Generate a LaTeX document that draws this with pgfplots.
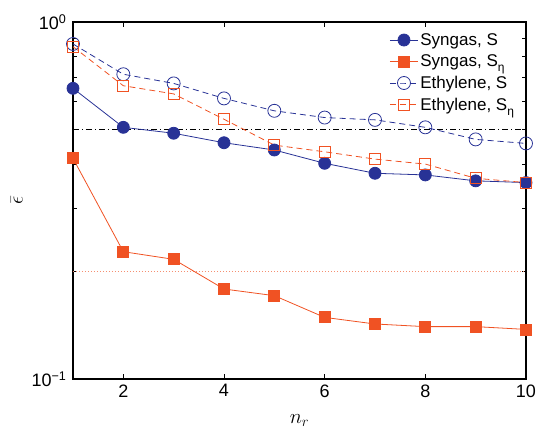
\documentclass[border=0pt]{standalone}
\usepackage{pgfplots}
\pgfplotsset{compat=1.18}
\usepackage{fontspec}
\setmainfont{Liberation Sans}
\definecolor{mblue}{RGB}{40,50,150}
\definecolor{morange}{RGB}{240,82,35}
\newcommand{\subeta}{\raisebox{-5pt}{\fontsize{12}{12}\selectfont η}}
\begin{document}
\begin{tikzpicture}
\useasboundingbox (-73pt,-53pt) rectangle (466pt,379pt);
\begin{axis}[
 at={(0,0)}, anchor=south west,
 scale only axis, width=453pt, height=357pt,
 ymode=log, xmin=1, xmax=10, ymin=0.1, ymax=1,
 xtick={2,4,6,8,10}, xticklabels={2,4,6,8,10},
 ytick={0.1,1}, yticklabels={10\textsuperscript{−1},10\textsuperscript{0}},
 minor ytick={0.2,0.3,0.4,0.5,0.6,0.7,0.8,0.9},
 tick align=inside, major tick length=5pt, minor tick length=4pt,
 axis line style={line width=1.1pt},
 tick style={black, line width=0.6pt},
 ticklabel style={font=\fontsize{18}{20}\selectfont},
 xticklabel style={yshift=-2pt},
 yticklabel style={xshift=-3pt},
 xlabel={$n_r$}, ylabel={$\bar{\epsilon}$},
 label style={font=\fontsize{21}{23}\selectfont},
 xlabel style={yshift=-10pt},
 ylabel style={yshift=2pt},
 legend style={at={(0.985,0.98)}, anchor=north east, draw=none, fill=none,
   font=\fontsize{17}{19}\selectfont, row sep=4pt, cells={anchor=west}},
 legend image code/.code={\draw[mark repeat=2,mark phase=2] plot coordinates {(0pt,0pt) (14pt,0pt) (28pt,0pt)};},
]
\addplot[black, line width=0.6pt, dash pattern=on 6pt off 3pt on 1pt off 3pt, forget plot] coordinates {(1,0.5) (10,0.5)};
\addplot[morange!65, line width=1pt, dash pattern=on 1pt off 2pt, forget plot] coordinates {(1,0.2) (10,0.2)};
\addplot[mblue, line width=0.8pt, mark=*, mark size=6pt, mark options={solid, fill=mblue}] coordinates {
(1,0.652) (2,0.507) (3,0.488) (4,0.459) (5,0.438) (6,0.402) (7,0.377) (8,0.373) (9,0.359) (10,0.355)};
\addlegendentry{Syngas, S}
\addplot[morange, line width=0.8pt, mark=square*, mark size=5.5pt, mark options={solid, fill=morange}] coordinates {
(1,0.415) (2,0.2273) (3,0.2164) (4,0.1787) (5,0.1712) (6,0.1488) (7,0.1426) (8,0.1402) (9,0.1402) (10,0.1377)};
\addlegendentry{Syngas, S\subeta}
\addplot[mblue, line width=0.8pt, dash pattern=on 6pt off 4pt, mark=o, mark size=6.5pt, mark options={solid}] coordinates {
(1,0.868) (2,0.714) (3,0.673) (4,0.611) (5,0.564) (6,0.540) (7,0.532) (8,0.507) (9,0.469) (10,0.457)};
\addlegendentry{Ethylene, S}
\addplot[morange, line width=0.8pt, dash pattern=on 6pt off 4pt, mark=square, mark size=5.5pt, mark options={solid}] coordinates {
(1,0.853) (2,0.663) (3,0.629) (4,0.534) (5,0.452) (6,0.433) (7,0.413) (8,0.400) (9,0.365) (10,0.355)};
\addlegendentry{Ethylene, S\subeta}
\end{axis}
\end{tikzpicture}
\end{document}
